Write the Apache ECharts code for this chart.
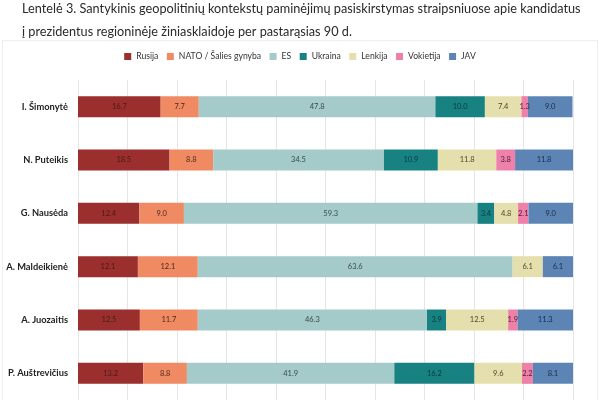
<!DOCTYPE html>
<html>
<head>
<meta charset="utf-8">
<script src="https://cdn.jsdelivr.net/npm/echarts@6/dist/echarts.min.js"></script>
<style>html,body{margin:0;padding:0;background:#fff}#c{width:600px;height:400px}</style>
</head>
<body>
<div id="c"></div>
<script>
const categories = ['I. Šimonytė', 'N. Puteikis', 'G. Nausėda', 'A. Maldeikienė', 'A. Juozaitis', 'P. Auštrevičius'];
const seriesNames = ['Rusija', 'NATO / Šalies gynyba', 'ES', 'Ukraina', 'Lenkija', 'Vokietija', 'JAV'];
const rusija =    [16.7, 18.5, 12.4, 12.1, 12.5, 13.2];
const nato =      [7.7, 8.8, 9.0, 12.1, 11.7, 8.8];
const es =        [47.8, 34.5, 59.3, 63.6, 46.3, 41.9];
const ukraina =   [10.0, 10.9, 3.4, null, 3.9, 16.2];
const lenkija =   [7.4, 11.8, 4.8, 6.1, 12.5, 9.6];
const vokietija = [1.3, 3.8, 2.1, null, 1.9, 2.2];
const jav =       [9.0, 11.8, 9.0, 6.1, 11.3, 8.1];
const values = [rusija, nato, es, ukraina, lenkija, vokietija, jav];
const colors = ['#9a2f2e', '#f08a62', '#a4cac9', '#188283', '#e5dfad', '#ee80aa', '#5c85b5'];
const labelColors = ['#4a1a1a', '#4a2a20', '#3a4a4a', '#0a3a3a', '#4a4530', '#4a2030', '#1a2a45'];

const chart = echarts.init(document.getElementById('c'));
const font = 'Lato, "Open Sans", sans-serif';
chart.setOption({
  animation: false,
  textStyle: { fontFamily: font },
  title: {
    text: 'Lentelė 3. Santykinis geopolitinių kontekstų paminėjimų pasiskirstymas straipsniuose apie kandidatus\nį prezidentus regioninėje žiniasklaidoje per pastarąsias 90 d.',
    left: 17, top: -7.5,
    textStyle: { fontSize: 12.7, fontWeight: 'normal', color: '#2a2a2a', lineHeight: 23, fontFamily: font }
  },
  legend: {
    top: 47, left: 'center',
    icon: 'rect', itemWidth: 7, itemHeight: 7, itemGap: 8.5, itemTextGap: 4,
    textStyle: { fontSize: 8.6, color: '#333', fontFamily: font },
    data: seriesNames
  },
  graphic: [{
    type: 'rect', shape: { x: 2.5, y: 40.5, width: 595, height: 400 },
    style: { fill: 'none', stroke: '#eeeeee', lineWidth: 1 }, silent: true, z: -1
  }],
  grid: { left: 78, right: 27, top: 80, bottom: 0 },
  xAxis: {
    type: 'value', min: 0, max: 100, interval: 10,
    axisLabel: { show: false }, axisLine: { show: false }, axisTick: { show: false },
    splitLine: { lineStyle: { color: '#e6e6e6' } }
  },
  yAxis: {
    type: 'category', inverse: true, data: categories,
    axisLine: { show: false }, axisTick: { show: false },
    axisLabel: { fontSize: 9.3, fontWeight: 'bold', color: '#222', margin: 10, fontFamily: font }
  },
  series: seriesNames.map((name, i) => ({
    name, type: 'bar', stack: 'total', barWidth: 21,
    data: values[i],
    itemStyle: { color: colors[i] },
    label: {
      show: true, position: 'inside', fontSize: 7.5, color: labelColors[i], fontFamily: font,
      formatter: p => p.value == null ? '' : Number(p.value).toFixed(1)
    }
  }))
});
</script>
</body>
</html>
